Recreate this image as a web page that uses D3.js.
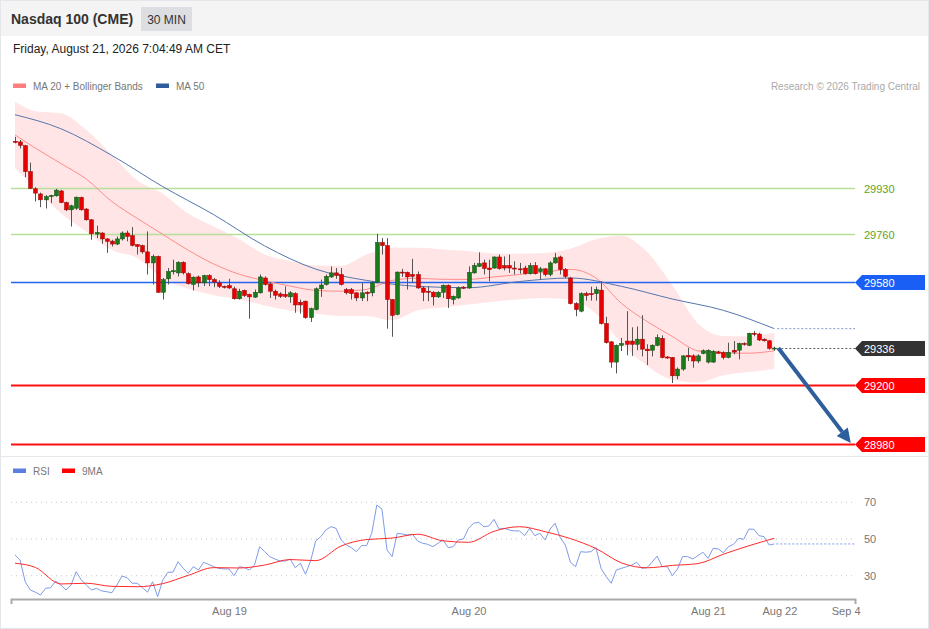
<!DOCTYPE html>
<html>
<head>
<meta charset="utf-8">
<script src="https://cdn.jsdelivr.net/npm/d3@7"></script>
<style>
  body { margin: 0; background: #fff; font-family: "Liberation Sans", Arial, sans-serif; }
  svg { display: block; }
</style>
</head>
<body>
<div id="chart"></div>
<script>
// 30 min candles, [open, high, low, close]
const ohlc = [
  [30103,30120,30096,30099],[30101,30108,30077,30088],[30087,30090,29970,29991],[29991,30024,29926,29929],
  [29927,29933,29880,29911],[29908,29913,29859,29886],[29886,29904,29854,29898],[29898,29905,29874,29902],
  [29901,29927,29898,29922],[29919,29923,29874,29876],[29876,29879,29844,29849],[29849,29868,29787,29864],
  [29855,29898,29849,29896],[29895,29898,29846,29849],[29852,29855,29809,29812],[29812,29815,29738,29760],
  [29759,29790,29744,29765],[29763,29766,29723,29741],[29741,29744,29689,29732],[29733,29738,29713,29722],
  [29722,29750,29718,29741],[29741,29769,29735,29763],[29763,29772,29732,29750],[29753,29785,29713,29717],
  [29720,29722,29683,29713],[29716,29720,29686,29693],[29693,29769,29609,29652],[29652,29683,29572,29676],
  [29676,29679,29541,29543],[29543,29596,29516,29590],[29593,29633,29572,29620],[29619,29664,29609,29623],
  [29615,29658,29602,29654],[29654,29658,29609,29615],[29612,29617,29572,29575],[29572,29602,29550,29599],
  [29600,29605,29562,29578],[29578,29608,29566,29605],[29605,29610,29566,29590],[29590,29596,29562,29581],
  [29578,29588,29559,29565],[29565,29568,29557,29562],[29568,29593,29556,29559],[29556,29564,29516,29519],
  [29519,29556,29516,29547],[29550,29553,29526,29531],[29535,29538,29445,29526],[29525,29553,29522,29543],
  [29541,29609,29538,29600],[29596,29602,29568,29572],[29574,29580,29522,29547],[29547,29553,29516,29532],
  [29537,29543,29522,29528],[29535,29565,29522,29528],[29526,29547,29504,29541],[29538,29543,29467,29496],
  [29506,29516,29464,29496],[29510,29512,29445,29449],[29449,29486,29433,29482],[29479,29561,29476,29556],
  [29556,29590,29526,29570],[29572,29609,29568,29602],[29600,29639,29596,29615],[29615,29633,29593,29606],
  [29609,29633,29568,29572],[29553,29559,29535,29541],[29553,29559,29516,29538],[29541,29543,29510,29522],
  [29522,29578,29510,29541],[29543,29547,29510,29538],[29541,29584,29528,29578],[29580,29760,29576,29728],
  [29728,29744,29683,29716],[29716,29744,29408,29516],[29516,29518,29378,29457],[29461,29620,29458,29618],
  [29618,29630,29600,29615],[29617,29620,29553,29600],[29609,29667,29578,29602],[29609,29620,29556,29559],
  [29559,29565,29510,29543],[29547,29565,29510,29543],[29543,29547,29494,29526],[29526,29547,29522,29543],
  [29543,29572,29522,29569],[29569,29572,29485,29519],[29516,29531,29498,29528],[29522,29565,29519,29559],
  [29562,29566,29555,29558],[29559,29639,29556,29617],[29615,29652,29612,29642],[29639,29691,29637,29649],
  [29652,29664,29609,29631],[29633,29664,29584,29627],[29633,29676,29630,29674],[29674,29683,29627,29631],
  [29642,29676,29624,29633],[29642,29683,29615,29633],[29633,29658,29609,29630],[29630,29652,29612,29627],
  [29633,29642,29609,29612],[29612,29652,29609,29642],[29642,29655,29609,29612],[29620,29637,29590,29630],
  [29630,29633,29602,29609],[29609,29658,29602,29652],[29652,29689,29649,29671],[29674,29679,29609,29627],
  [29627,29633,29596,29602],[29596,29600,29498,29501],[29501,29506,29454,29479],[29473,29543,29469,29538],
  [29538,29545,29512,29531],[29538,29564,29512,29535],[29538,29564,29512,29553],[29551,29584,29423,29427],
  [29427,29452,29353,29356],[29359,29362,29263,29284],[29284,29349,29242,29346],[29346,29374,29325,29353],
  [29362,29473,29309,29350],[29362,29413,29307,29350],[29350,29416,29328,29369],[29369,29458,29305,29332],
  [29332,29350,29273,29326],[29328,29350,29305,29346],[29346,29387,29343,29375],[29372,29383,29298,29301],
  [29303,29306,29296,29299],[29301,29303,29206,29233],[29233,29264,29220,29258],[29258,29309,29252,29307],
  [29309,29337,29288,29303],[29307,29313,29263,29288],[29288,29313,29280,29307],[29316,29331,29313,29326],
  [29284,29331,29279,29328],[29284,29328,29281,29324],[29322,29326,29315,29317],[29320,29324,29294,29301],
  [29301,29356,29298,29320],[29328,29362,29313,29321],[29328,29356,29294,29353],[29353,29357,29345,29350],
  [29346,29393,29343,29391],[29391,29399,29380,29387],[29388,29393,29362,29366],[29369,29372,29360,29363],
  [29363,29366,29330,29335],[29334,29341,29326,29336]
];

// indicator readings, every 5th candle (1,5,10,...,150)
const ma20 = [30127,30078,30021,29963,29880,29817,29758,29699,29648,29610,29586,29566,29550,29547,29554,29587,
  29595,29591,29591,29600,29609,29618,29628,29596,29502,29435,29379,29326,29317,29317,29326];
const bbUpper = [30250,30215,30207,30145,30053,29958,29909,29835,29787,29740,29683,29659,29642,29641,29683,29708,
  29708,29702,29696,29687,29686,29689,29705,29740,29753,29693,29569,29428,29381,29380,29393];
const bbLower = [30003,29931,29836,29768,29700,29670,29593,29556,29532,29517,29494,29475,29463,29455,29455,29439,
  29476,29487,29498,29508,29517,29522,29516,29464,29354,29270,29218,29208,29235,29247,29258];
// every 10th candle (1,10,20,...,150)
const ma50 = [30202,30150,30051,29935,29831,29715,29629,29587,29565,29560,29583,29596,29565,29518,29476,29408];

// RSI per candle
const rsi = [41.3,38.6,26.7,22.2,21,19.5,23.1,23.5,27.1,24.9,
  22.2,24.9,32.2,27.7,24.9,22.2,23.1,21.7,21.3,20.7,
  24.9,29.8,28.9,25.9,25.9,23.5,21,26.7,18.6,27.7,
  31.9,31.9,37.6,34,31.3,34.9,33.1,37.3,36.2,34.9,
  34,33.7,33.7,30,34.9,34.4,33.1,35.8,45.8,43.1,
  40.4,39.1,38,38,39.1,34.4,36.8,30.8,38,48.9,
  51.3,54.9,56.7,55.8,49.5,46.7,45.3,43.1,46.4,46.4,
  53.1,68.5,66.3,44,40.4,53.1,52.7,52.2,52.6,48.9,
  47.7,47.1,45.8,47.7,49.5,45.3,45.8,49.5,50,55.8,
  58.6,59.1,56.7,57.1,60.7,55.4,55.8,54.9,54.4,54.4,
  51.8,55.8,51.8,53.1,49.5,55.4,58.6,50.7,46.7,37.3,
  34.9,43.1,42.8,43.1,45.3,34,29.5,25.9,33.1,34,
  34.9,35.8,37.3,34,34.4,37.3,40.7,34.9,34.9,30,
  33.7,40.4,40.4,39.1,40.9,42.8,39.5,44.9,44.6,42.5,
  45.8,47.1,50.4,49.8,55.4,55.3,51.8,51.3,46.7,47.3];
// RSI 9MA, every 5th candle
const rsiMa9 = [36.8,34.5,25.5,25.9,24.2,24,25.7,30.2,34.4,34.2,35.8,38.8,38.2,46.2,49.7,50.5,
  52.6,49,48.2,54.2,56.7,54,50.2,44.8,37,34.3,35.6,36.6,41.7,46.3,50.4];

const levelValues = [29930, 29760, 29580, 29336, 29200, 28980];
const levelKinds = ['res', 'res', 'pivot', 'last', 'sup', 'sup'];
const rsiTicks = [30, 50, 70];
const xTickIdx = [43, 90, 137, 151, 164];
const xTickLabels = ['Aug 19', 'Aug 20', 'Aug 21', 'Aug 22', 'Sep 4'];

const width = 929, height = 629;
const plotLeft = 11, plotRight = 855;

const svg = d3.select('#chart').append('svg')
    .attr('width', width)
    .attr('height', height);

// frame + header
svg.append('rect').attr('x', 0.5).attr('y', 0.5).attr('width', width - 1).attr('height', height - 1)
    .attr('fill', '#fff').attr('stroke', '#e3e6ea');
svg.append('rect').attr('x', 1).attr('y', 1).attr('width', width - 2).attr('height', 35).attr('fill', '#f4f4f4');
svg.append('text').attr('x', 11).attr('y', 24).text('Nasdaq 100 (CME)')
    .style('font-size', '14px').style('font-weight', 'bold').attr('fill', '#333');
svg.append('rect').attr('x', 141).attr('y', 7).attr('width', 51).attr('height', 24).attr('fill', '#dcdee2');
svg.append('text').attr('x', 166.5).attr('y', 23.5).attr('text-anchor', 'middle').text('30 MIN')
    .style('font-size', '12px').attr('fill', '#333');
svg.append('text').attr('x', 13).attr('y', 53).text('Friday, August 21, 2026 7:04:49 AM CET')
    .style('font-size', '12px').attr('fill', '#222');

// legends
function legend(items, yPos) {
    items.forEach(function(it) {
        svg.append('rect').attr('x', it.x).attr('y', yPos - 2.5).attr('width', 13).attr('height', 4.5).attr('fill', it.color);
        svg.append('text').attr('x', it.x + 20).attr('y', yPos + 3.5).text(it.label)
            .style('font-size', '10px').attr('fill', '#777');
    });
}
legend([{x: 13, color: '#ff7f7f', label: 'MA 20 + Bollinger Bands'}, {x: 156, color: '#2f5c9c', label: 'MA 50'}], 86);
svg.append('text').attr('x', 920).attr('y', 89.5).attr('text-anchor', 'end').text('Research \u00a9 2026 Trading Central')
    .style('font-size', '10px').attr('fill', '#aaa');

// scales
const x = d3.scaleLinear().domain([1, 150]).range([15, 774.3]);
const y = d3.scaleLinear().domain([28980, 29930]).range([444, 188]);
const yr = d3.scaleLinear().domain([30, 70]).range([575.7, 502.3]);

const idx5 = [1].concat(d3.range(5, 151, 5));
const idx10 = [1].concat(d3.range(10, 151, 10));

// bollinger band
const bandData = idx5.map((d, i) => ({i: d, hi: bbUpper[i], lo: bbLower[i], m: ma20[i]}));
svg.append('path').datum(bandData)
    .attr('d', d3.area().x(d => x(d.i)).y0(d => y(d.lo)).y1(d => y(d.hi)).curve(d3.curveMonotoneX))
    .attr('fill', '#ffe1e1').attr('opacity', 0.85);

// horizontal levels
const levelStyle = {
    res:   {stroke: '#b9e09a', w: 1.5, tag: null, text: '#5ea326'},
    pivot: {stroke: '#2466f0', w: 1.5, tag: '#1a5ff5', text: '#fff'},
    last:  {stroke: '#666', w: 1, tag: '#333', text: '#fff'},
    sup:   {stroke: '#ff1010', w: 2, tag: '#ff0000', text: '#fff'}
};
levelValues.forEach(function(v, i) {
    const st = levelStyle[levelKinds[i]];
    const yy = Math.round(y(v)) + 0.5;
    if (levelKinds[i] === 'last') {
        svg.append('line').attr('x1', x(150) + 3).attr('x2', plotRight).attr('y1', yy).attr('y2', yy)
            .attr('stroke', st.stroke).attr('stroke-dasharray', '2,2');
    } else {
        svg.append('line').attr('x1', plotLeft).attr('x2', plotRight).attr('y1', yy).attr('y2', yy)
            .attr('stroke', st.stroke).attr('stroke-width', st.w);
    }
    if (st.tag) {
        svg.append('path')
            .attr('d', 'M' + plotRight + ',' + yy + 'L' + (plotRight + 7) + ',' + (yy - 7.5) + 'H925V' + (yy + 7.5) + 'H' + (plotRight + 7) + 'Z')
            .attr('fill', st.tag);
    }
    svg.append('text').attr('x', 864).attr('y', yy + 4).text(v)
        .style('font-size', '11px').attr('fill', st.text);
});

// moving averages
svg.append('path').datum(bandData)
    .attr('d', d3.line().x(d => x(d.i)).y(d => y(d.m)).curve(d3.curveMonotoneX))
    .attr('fill', 'none').attr('stroke', '#ff8c8c').attr('stroke-width', 1);
const ma50Data = idx10.map((d, i) => ({i: d, v: ma50[i]}));
svg.append('path').datum(ma50Data)
    .attr('d', d3.line().x(d => x(d.i)).y(d => y(d.v)).curve(d3.curveMonotoneX))
    .attr('fill', 'none').attr('stroke', '#5576ad').attr('stroke-width', 1);
svg.append('line').attr('x1', x(150) + 3).attr('x2', plotRight)
    .attr('y1', y(ma50[ma50.length - 1])).attr('y2', y(ma50[ma50.length - 1]))
    .attr('stroke', '#7d94c0').attr('stroke-dasharray', '2,2');

// candles
const candles = svg.append('g').selectAll('g').data(ohlc).enter().append('g');
candles.append('line')
    .attr('x1', (d, i) => Math.round(x(i + 1)) + 0.5).attr('x2', (d, i) => Math.round(x(i + 1)) + 0.5)
    .attr('y1', d => y(d[1])).attr('y2', d => y(d[2]))
    .attr('stroke', '#555').attr('stroke-width', 1);
candles.append('rect')
    .attr('x', (d, i) => Math.round(x(i + 1)) - 1.5)
    .attr('width', 4)
    .attr('y', d => y(Math.max(d[0], d[3])))
    .attr('height', d => Math.max(1, Math.abs(y(d[0]) - y(d[3]))))
    .attr('fill', d => d[3] >= d[0] ? '#197a19' : '#e60000')
    .attr('stroke', d => d[3] >= d[0] ? '#0d4d0d' : '#9a0000')
    .attr('stroke-width', 0.5);

// forecast arrow
const last = ohlc[ohlc.length - 1];
const ax0 = x(150) + 4, ay0 = y(last[3]);
const ax1 = x(165), ay1 = y(levelValues[5]) - 1;
const ang = Math.atan2(ay1 - ay0, ax1 - ax0);
const headL = 14, headW = 7;
const bx = ax1 - headL * Math.cos(ang), by = ay1 - headL * Math.sin(ang);
svg.append('line').attr('x1', ax0).attr('y1', ay0).attr('x2', bx).attr('y2', by)
    .attr('stroke', '#2f5e9c').attr('stroke-width', 4);
svg.append('path')
    .attr('d', 'M' + ax1 + ',' + ay1 +
        'L' + (bx + headW * Math.sin(ang)) + ',' + (by - headW * Math.cos(ang)) +
        'L' + (bx - headW * Math.sin(ang)) + ',' + (by + headW * Math.cos(ang)) + 'Z')
    .attr('fill', '#2f5e9c');

// panel separator
svg.append('line').attr('x1', 1).attr('x2', width - 1).attr('y1', 456.5).attr('y2', 456.5)
    .attr('stroke', '#e6e8ec');

// RSI panel
legend([{x: 13, color: '#5b7fe0', label: 'RSI'}, {x: 62, color: '#ff0000', label: '9MA'}], 471);

rsiTicks.forEach(function(t) {
    svg.append('line').attr('x1', plotLeft).attr('x2', plotRight).attr('y1', yr(t)).attr('y2', yr(t))
        .attr('stroke', '#c8c8c8').attr('stroke-dasharray', '1,4');
});
const rAxis = svg.append('g').attr('transform', 'translate(' + plotRight + ',0)')
    .call(d3.axisRight(yr).tickValues(rsiTicks).tickSize(0).tickPadding(9));
rAxis.select('.domain').remove();
rAxis.selectAll('text').style('font-size', '11px').style('font-family', '"Liberation Sans", Arial, sans-serif').attr('fill', '#777');

svg.append('path').datum(rsi)
    .attr('d', d3.line().x((d, i) => x(i + 1)).y(d => yr(d)))
    .attr('fill', 'none').attr('stroke', '#7f9be8').attr('stroke-width', 1);
svg.append('line').attr('x1', x(150) + 2).attr('x2', plotRight)
    .attr('y1', yr(rsi[rsi.length - 1])).attr('y2', yr(rsi[rsi.length - 1]))
    .attr('stroke', '#7f9be8').attr('stroke-dasharray', '2,2');
const maRsiData = idx5.map((d, i) => ({i: d, v: rsiMa9[i]}));
svg.append('path').datum(maRsiData)
    .attr('d', d3.line().x(d => x(d.i)).y(d => yr(d.v)).curve(d3.curveMonotoneX))
    .attr('fill', 'none').attr('stroke', '#ff2a2a').attr('stroke-width', 1);

// time axis
const xAxisScale = x.copy().domain([x.invert(plotLeft), x.invert(plotRight)]).range([plotLeft, plotRight]);
const xAxis = svg.append('g').attr('transform', 'translate(0,599)')
    .call(d3.axisBottom(xAxisScale).tickValues(xTickIdx)
        .tickFormat((d, i) => xTickLabels[i]).tickSizeInner(0).tickSizeOuter(5).tickPadding(8));
xAxis.select('.domain').attr('stroke', '#aaa').attr('stroke-width', 2);
xAxis.selectAll('text').style('font-size', '11px').style('font-family', '"Liberation Sans", Arial, sans-serif').attr('fill', '#777');
</script>
</body>
</html>
